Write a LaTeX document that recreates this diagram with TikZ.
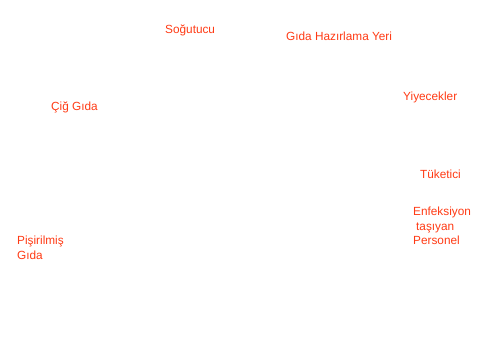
\documentclass[tikz,border=0pt]{standalone}
\usepackage{fontspec}
\setmainfont{Liberation Sans}
\definecolor{etiket}{RGB}{255,58,20}
\tikzset{lbl/.style={text=etiket, font=\fontsize{11.8}{14.5}\selectfont, anchor=west, inner sep=0pt, align=left}}
\begin{document}
\begin{tikzpicture}[x=1pt, y=-1pt]
\useasboundingbox (0,0) rectangle (480,362);

\node[lbl](sogutucu) at (165,30.5){Soğutucu};
\node[lbl](hazirlama) at (286,36.5){Gıda Hazırlama Yeri};
\node[lbl](cig) at (51,107.5){Çiğ Gıda};
\node[lbl](yiyecek) at (403,97.5){Yiyecekler};
\node[lbl](tuketici) at (420,174.5){Tüketici};
\node[lbl](personel) at (413,226){Enfeksiyon\\\hspace{3pt}taşıyan\\Personel};
\node[lbl](pisirilmis) at (17,248){Pişirilmiş\\Gıda};
    \end{tikzpicture}
\end{document}
